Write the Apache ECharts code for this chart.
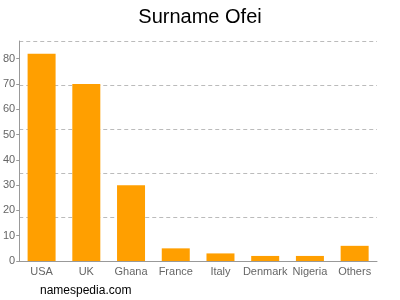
<!DOCTYPE html>
<html><head><meta charset="utf-8">
<script src="https://cdn.jsdelivr.net/npm/echarts@6/dist/echarts.min.js"></script>
<style>html,body{margin:0;padding:0;background:#fff}#c{width:400px;height:300px}</style>
</head><body><div id="c"></div>
<script>
const categories = ["USA","UK","Ghana","France","Italy","Denmark","Nigeria","Others"];
const values = [82,70,30,5,3,2,2,6];
const yTicks = [0,10,20,30,40,50,60,70,80];

const chart = echarts.init(document.getElementById('c'), null, {renderer:'canvas'});
chart.setOption({
  animation:false,
  backgroundColor:'#fff',
  title:{text:'Surname Ofei',left:'center',top:2,textStyle:{fontFamily:'Liberation Sans, Arial',fontSize:20,fontWeight:'normal',color:'#000'}},
  graphic:[{type:'text',left:40,top:285,style:{text:'namespedia.com',font:'12px Liberation Sans, Arial',fill:'#000'}}],
  grid:{left:17,right:23,top:41,bottom:39,containLabel:false},
  xAxis:{type:'category',data:categories,
    axisLine:{lineStyle:{color:'#999'}},
    axisTick:{alignWithLabel:true,length:3,lineStyle:{color:'#999'}},
    axisLabel:{color:'#666',fontSize:11,fontFamily:'Liberation Sans, Arial',margin:5,interval:0}},
  yAxis:[{type:'value',min:0,max:87,interval:10,
    axisLine:{show:true,lineStyle:{color:'#999'}},
    axisTick:{show:true,length:3,lineStyle:{color:'#999'},customValues:yTicks},
    splitLine:{show:false},
    axisLabel:{color:'#666',fontSize:11,fontFamily:'Liberation Sans, Arial',margin:4,hideOverlap:false,
      formatter:function(v){return yTicks.indexOf(v)>=0 ? String(v) : '';}}},
    {type:'value',min:0,max:5,interval:1,position:'right',
     axisLine:{show:false},axisTick:{show:false},axisLabel:{show:false},
     splitLine:{show:true,lineStyle:{color:'#bbb',type:[4,3],width:1}}}],
  series:[{type:'bar',data:values,barWidth:28,itemStyle:{color:'#FF9F00'},yAxisIndex:0}]
});
</script></body></html>
